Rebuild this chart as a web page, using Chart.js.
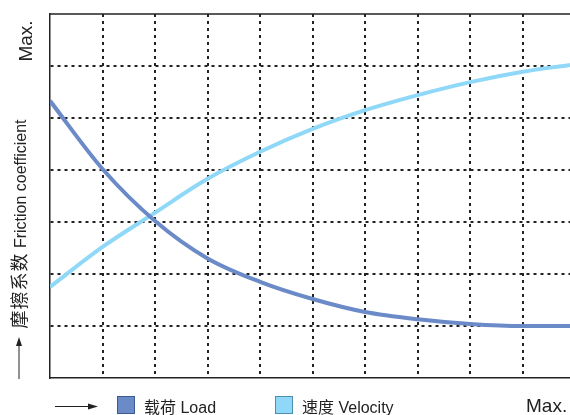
<!DOCTYPE html>
<html>
<head>
<meta charset="utf-8">
<script src="https://cdn.jsdelivr.net/npm/chart.js@4/dist/chart.umd.min.js"></script>
<style>
  html, body { margin: 0; padding: 0; background: #fff; overflow: hidden; }
  #wrap { position: relative; width: 570px; height: 415px; font-family: "Liberation Sans", Arial, "Noto Sans CJK SC", sans-serif; color: #222; }
  #chart { position: absolute; left: 0; top: 0; }
  .rot { position: absolute; white-space: nowrap; transform: translate(-50%, -50%) rotate(-90deg); }
  .txt { position: absolute; white-space: nowrap; transform: translateY(-50%); }
  .box { position: absolute; width: 18px; height: 18px; box-sizing: border-box; }
  .cjk { font-size: 18px; letter-spacing: 1px; }
</style>
</head>
<body>
<div id="wrap">
  <canvas id="chart" width="570" height="415"></canvas>
  <div class="rot" style="left:26px; top:41px; font-size:19px;">Max.</div>
  <div class="rot" style="left:18px; top:224px; font-size:16px;"><span class="cjk">摩擦系数</span> Friction coefficient</div>
  <div class="box" style="left:117px; top:396px; background:#6a8ac8; border:1px solid #3d5a93;"></div>
  <div class="txt" style="left:144px; top:406px; font-size:16px;">载荷 Load</div>
  <div class="box" style="left:275px; top:396px; background:#8fd8f8; border:1px solid #4f8fae;"></div>
  <div class="txt" style="left:302px; top:406px; font-size:16px;">速度 Velocity</div>
  <div class="txt" style="left:526px; top:406px; font-size:19px;">Max.</div>
</div>
<script>
// positions along the x axis (arbitrary units, 0 .. max)
const xPositions = [0, 1, 2, 3, 4, 5, 6, 7, 8, 9, 9.9];
// friction coefficient vs load
const loadValues = [5.33, 4.02, 3.02, 2.3, 1.85, 1.52, 1.27, 1.13, 1.04, 1.0, 1.0];
// friction coefficient vs velocity
const velocityValues = [1.75, 2.52, 3.18, 3.83, 4.35, 4.79, 5.15, 5.44, 5.69, 5.89, 6.02];
const seriesNames = ['载荷 Load', '速度 Velocity'];
const xGridTicks = [0, 1, 2, 3, 4, 5, 6, 7, 8, 9];
const yGridTicks = [0, 1, 2, 3, 4, 5, 6];

function toPoints(ys) {
    return xPositions.map((x, i) => ({ x: x, y: ys[i] }));
}

// draws the top frame line and the two axis arrows
const framePlugin = {
    id: 'frame',
    afterDraw(chart) {
        const ctx = chart.ctx;
        const a = chart.chartArea;
        ctx.save();
        ctx.strokeStyle = '#222';
        ctx.fillStyle = '#222';
        ctx.lineWidth = 1.5;
        ctx.beginPath();
        ctx.moveTo(a.left, a.top);
        ctx.lineTo(chart.width, a.top);
        ctx.stroke();

        // vertical arrow (left)
        ctx.lineWidth = 1;
        ctx.beginPath();
        ctx.moveTo(19, 379);
        ctx.lineTo(19, 344);
        ctx.stroke();
        ctx.beginPath();
        ctx.moveTo(19, 337);
        ctx.lineTo(16, 346);
        ctx.lineTo(22, 346);
        ctx.closePath();
        ctx.fill();

        // horizontal arrow (bottom)
        ctx.beginPath();
        ctx.moveTo(55, 406.5);
        ctx.lineTo(90, 406.5);
        ctx.stroke();
        ctx.beginPath();
        ctx.moveTo(98, 406.5);
        ctx.lineTo(88, 403.5);
        ctx.lineTo(88, 409.5);
        ctx.closePath();
        ctx.fill();
        ctx.restore();
    }
};

function gridColor(c) {
    return c.tick && c.tick.value === 0 ? 'rgba(0,0,0,0)' : '#222';
}

new Chart(document.getElementById('chart'), {
    type: 'line',
    data: {
        datasets: [
            {
                label: seriesNames[0],
                data: toPoints(loadValues),
                borderColor: '#6a8ac8',
                borderWidth: 4,
                pointRadius: 0,
                cubicInterpolationMode: 'monotone',
                fill: false
            },
            {
                label: seriesNames[1],
                data: toPoints(velocityValues),
                borderColor: '#8fd8f8',
                borderWidth: 4,
                pointRadius: 0,
                cubicInterpolationMode: 'monotone',
                fill: false
            }
        ]
    },
    options: {
        responsive: false,
        animation: false,
        layout: { padding: { left: 50, top: 14, right: 0, bottom: 37 } },
        plugins: {
            legend: { display: false },
            tooltip: { enabled: false }
        },
        scales: {
            x: {
                type: 'linear',
                min: 0,
                max: 9.9,
                afterBuildTicks: s => { s.ticks = xGridTicks.map(v => ({ value: v })); },
                ticks: { display: false },
                border: { display: true, color: '#222', width: 1.5, dash: [3, 4] },
                grid: { color: gridColor, lineWidth: 2, drawTicks: false }
            },
            y: {
                min: 0,
                max: 7,
                afterBuildTicks: s => { s.ticks = yGridTicks.map(v => ({ value: v })); },
                ticks: { display: false },
                border: { display: true, color: '#222', width: 1.5, dash: [3, 4] },
                grid: { color: gridColor, lineWidth: 2, drawTicks: false }
            }
        }
    },
    plugins: [framePlugin]
});
</script>
</body>
</html>
